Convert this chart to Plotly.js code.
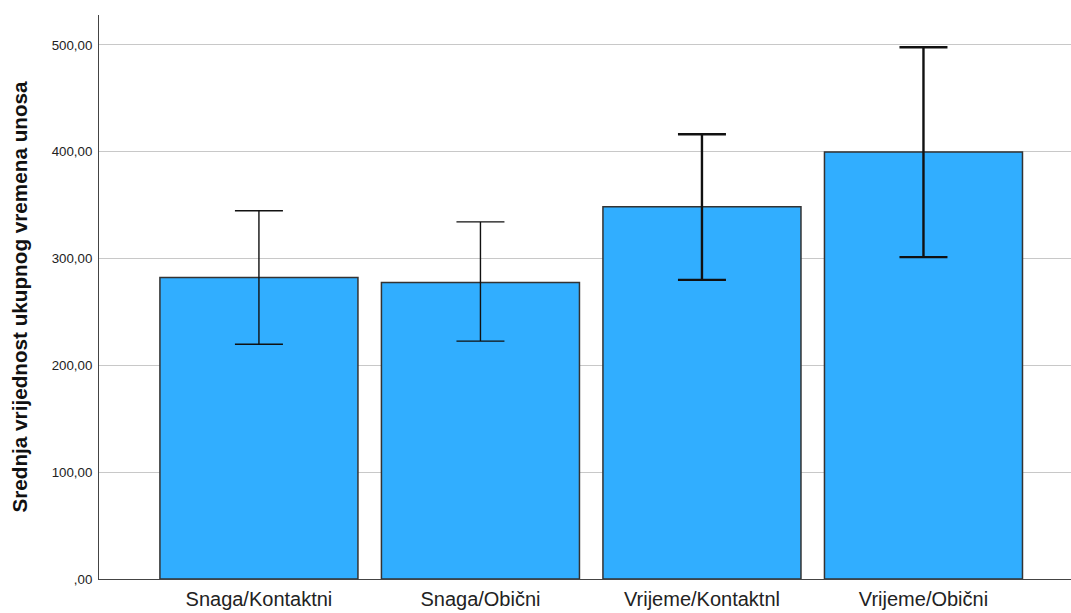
<!DOCTYPE html>
<html>
<head>
<meta charset="utf-8">
<script src="https://cdn.plot.ly/plotly-3.0.1.min.js"></script>
<style>html,body{margin:0;padding:0;background:#fff;}#chart{width:1071px;height:613px;}</style>
</head>
<body>
<div id="chart"></div>
<script>
// Data
const categories = ["Snaga/Kontaktni", "Snaga/Obični", "Vrijeme/Kontaktnl", "Vrijeme/Obični"];
const means = [282.3, 277.6, 348.5, 399.7];
const upperCI = [344.7, 334.3, 416.3, 497.8];
const lowerCI = [219.8, 222.7, 280.0, 301.3];
const yTickVals = [0, 100, 200, 300, 400, 500];
const yTickText = [",00", "100,00", "200,00", "300,00", "400,00", "500,00"];

const plus = means.map((m, i) => upperCI[i] - m);
const minus = means.map((m, i) => m - lowerCI[i]);

// Error bar line weights differ between the first two and last two bars in the reference
const groups = [[0, 1, 1.4], [2, 3, 2.4]];
const traces = groups.map(g => {
  const idx = [g[0], g[1]];
  return {
    type: "bar",
    x: idx.map(i => categories[i]),
    y: idx.map(i => means[i]),
    width: 0.894,
    marker: {color: "#31aeff", line: {color: "#333333", width: 1.5}},
    error_y: {
      type: "data", symmetric: false,
      array: idx.map(i => plus[i]),
      arrayminus: idx.map(i => minus[i]),
      color: "#111111", thickness: g[2], width: 24
    },
    hoverinfo: "x+y",
    showlegend: false
  };
});

const layout = {
  width: 1071, height: 613,
  margin: {l: 99, r: 0, t: 15, b: 34},
  paper_bgcolor: "#ffffff", plot_bgcolor: "#ffffff",
  barmode: "overlay",
  showlegend: false,
  font: {family: "Liberation Sans, Arial, sans-serif", color: "#222222"},
  xaxis: {
    type: "category",
    categoryorder: "array", categoryarray: categories,
    range: [-0.722, 3.666],
    showgrid: false, zeroline: false,
    showline: true, linecolor: "#444444", linewidth: 1,
    ticks: "", tickfont: {size: 20, color: "#222222"},
    ticklabelstandoff: 2,
    automargin: false
  },
  yaxis: {
    range: [0, 528],
    tickvals: yTickVals, ticktext: yTickText,
    showgrid: true, gridcolor: "#c8c8c8", gridwidth: 1,
    zeroline: false,
    showline: true, linecolor: "#444444", linewidth: 1,
    ticks: "", tickfont: {size: 13.3, color: "#222222"},
    ticklabelstandoff: 3,
    title: {text: "Srednja vrijednost ukupnog vremena unosa", font: {size: 20.7, color: "#111111", family: "Liberation Sans, Arial, sans-serif", weight: "bold"}, standoff: 18},
    automargin: false
  }
};

Plotly.newPlot("chart", traces, layout, {displayModeBar: false, staticPlot: true});
</script>
</body>
</html>
